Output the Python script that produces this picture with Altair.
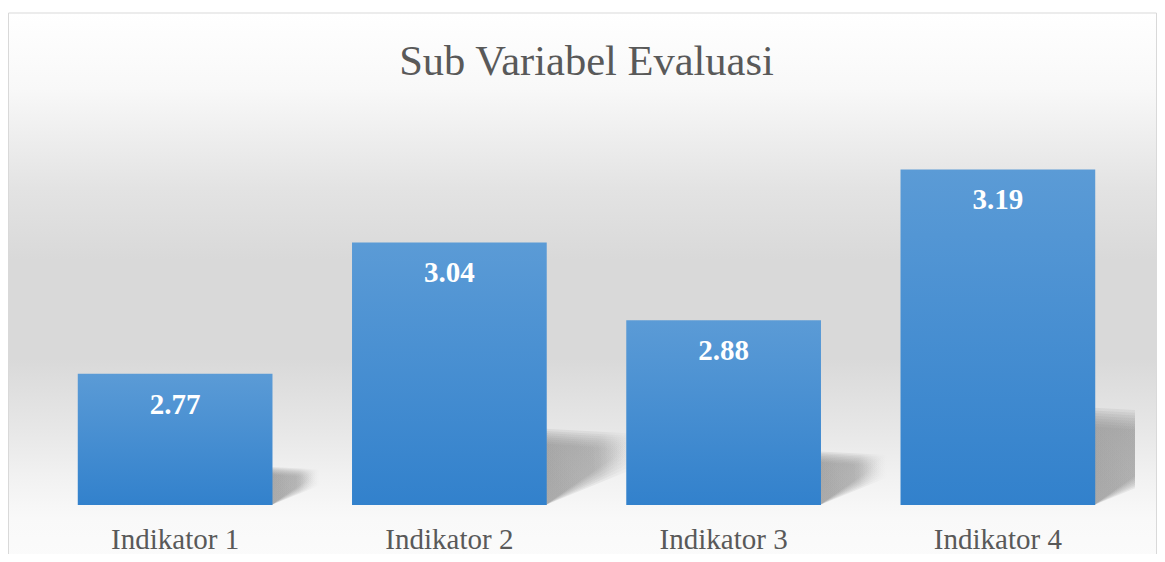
import altair as alt
import pandas as pd

categories = ["Indikator 1", "Indikator 2", "Indikator 3", "Indikator 4"]
values = [2.77, 3.04, 2.88, 3.19]
labels = ["2.77", "3.04", "2.88", "3.19"]
title_text = "Sub Variabel Evaluasi"
y_min, y_max = 2.5, 3.3

W, H = 1097, 389
SERIF = "Liberation Serif"

df = pd.DataFrame({"cat": categories, "value": values, "label": labels})

# perspective shadow polygons, derived from the bar values (data units);
# several soft copies give a blurred look
half = 0.3555
shadow_specs = [  # (top factor, far-end lower factor, extent factor)
    (0.29, 0.15, 0.64),
    (0.282, 0.16, 0.62),
    (0.274, 0.17, 0.60),
    (0.266, 0.18, 0.58),
    (0.258, 0.19, 0.56),
    (0.25, 0.195, 0.54),
    (0.242, 0.2, 0.52),
    (0.234, 0.2, 0.50),
]
rows = []
for k, (tf, bf, ef) in enumerate(shadow_specs):
    for i, (c, v) in enumerate(zip(categories, values)):
        h = v - y_min
        r = i + 0.5 + half
        rows.append({"cat": c, "layer": k, "sx": r - 0.005, "top": y_min + tf * h, "bot": y_min})
        rows.append({"cat": c, "layer": k, "sx": r + ef * h, "top": y_min + (tf - 0.02) * h, "bot": y_min + bf * h})
shadow_df = pd.DataFrame(rows)

bg_grad = alt.Gradient(
    gradient="linear", x1=0, y1=0, x2=0, y2=1,
    stops=[
        alt.GradientStop(color="#ffffff", offset=0),
        alt.GradientStop(color="#f8f8f8", offset=0.14),
        alt.GradientStop(color="#e3e3e3", offset=0.32),
        alt.GradientStop(color="#d9d9d9", offset=0.45),
        alt.GradientStop(color="#d9d9d9", offset=0.63),
        alt.GradientStop(color="#e6e6e6", offset=0.75),
        alt.GradientStop(color="#f2f2f2", offset=0.85),
        alt.GradientStop(color="#f9f9f9", offset=0.92),
        alt.GradientStop(color="#fbfbfb", offset=1),
    ],
)

background = alt.Chart(alt.Data(values=[{}])).mark_rect(
    fill=bg_grad, stroke="#d9d9d9", strokeWidth=1
).encode(
    x=alt.value(-29.5), x2=alt.value(1118.5), y=alt.value(-103), y2=alt.value(446)
)

title = alt.Chart(alt.Data(values=[{"t": title_text}])).mark_text(
    font=SERIF, fontSize=42.5, color="#595959", align="center", baseline="alphabetic"
).encode(
    x=alt.value(W / 2), y=alt.value(-41), text="t:N"
)

shadow_grad = alt.Gradient(
    gradient="linear", x1=0, y1=0, x2=1, y2=0,
    stops=[
        alt.GradientStop(color="rgba(140,140,140,0.15)", offset=0),
        alt.GradientStop(color="rgba(150,150,150,0.13)", offset=0.6),
        alt.GradientStop(color="rgba(170,170,170,0)", offset=1),
    ],
)

shadow = alt.Chart(shadow_df).mark_area(
    fill=shadow_grad, orient="vertical", clip=True, interpolate="linear"
).encode(
    x=alt.X("sx:Q", scale=alt.Scale(domain=[0, 4], nice=False, zero=False), axis=None),
    y=alt.Y("top:Q", scale=alt.Scale(domain=[y_min, y_max], nice=False, zero=False), axis=None),
    y2="bot:Q",
    detail=alt.Detail(["cat:N", "layer:N"]),
)

bar_grad = alt.Gradient(
    gradient="linear", x1=0, y1=0, x2=0, y2=1,
    stops=[
        alt.GradientStop(color="#5b9bd6", offset=0),
        alt.GradientStop(color="#3281cc", offset=1),
    ],
)

xenc = alt.X(
    "cat:N", sort=categories, title=None,
    scale=alt.Scale(paddingInner=0.29, paddingOuter=0.145),
    axis=alt.Axis(
        labelAngle=0, domain=False, ticks=False, grid=False, zindex=2,
        labelFont=SERIF, labelFontSize=29, labelColor="#595959",
        labelBaseline="alphabetic", labelPadding=43,
    ),
)
yenc = alt.Y(
    "value:Q", scale=alt.Scale(domain=[y_min, y_max], nice=False, zero=False), axis=None
)

bars = alt.Chart(df).mark_bar(fill=bar_grad).encode(x=xenc, y=yenc, y2=alt.datum(y_min))

text = alt.Chart(df).mark_text(
    font=SERIF, fontSize=29, fontWeight="bold", color="white",
    align="center", baseline="alphabetic", dy=40,
).encode(x=xenc, y=yenc, text="label:N")

chart = alt.layer(
    background, title, shadow, alt.layer(bars, text)
).resolve_scale(x="independent").properties(
    width=W, height=H,
    autosize=alt.AutoSizeParams(type="none"),
    padding={"left": 30, "top": 108, "right": 22, "bottom": 49},
    background="white",
).configure_view(stroke=None)

chart.save("out.html", embed_options={"renderer": "svg", "actions": False})
